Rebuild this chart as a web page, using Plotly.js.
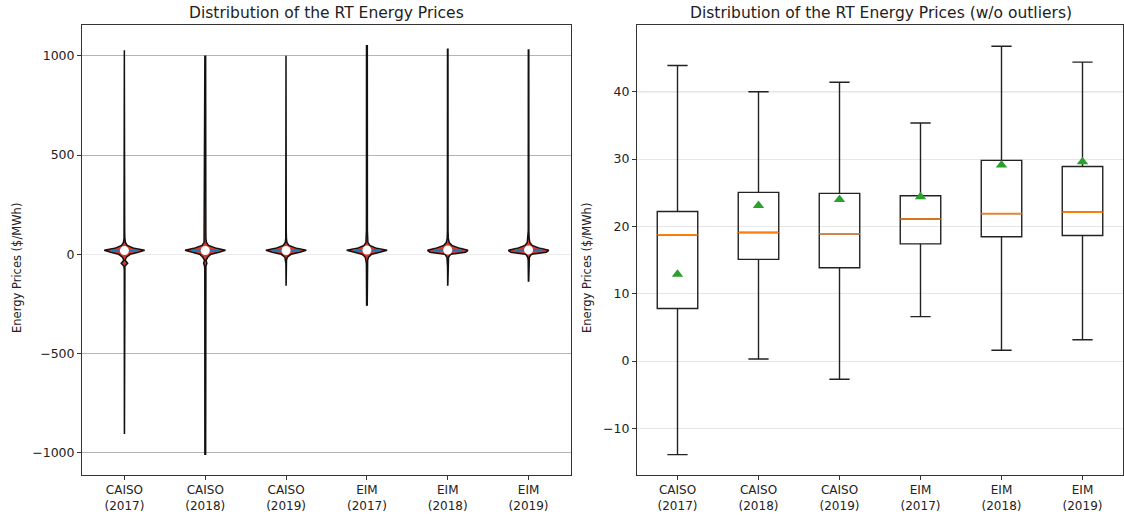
<!DOCTYPE html>
<html>
<head>
<meta charset="utf-8">
<script src="https://cdn.plot.ly/plotly-3.0.1.min.js"></script>
<style>
  html, body { margin: 0; padding: 0; background: #fff; }
  #chart { width: 1124px; height: 516px; }
</style>
</head>
<body>
<div id="chart"></div>
<script>
// Market / year groups
const tickLabels = ['CAISO<br>(2017)', 'CAISO<br>(2018)', 'CAISO<br>(2019)', 'EIM<br>(2017)', 'EIM<br>(2018)', 'EIM<br>(2019)'];

// Full price range per group ($/MWh)
const priceMin = [-905, -1011, -158, -259, -158, -138];
const priceMax = [1027, 997, 1000, 1050, 1032, 1029];

// Violin density profile (half-width in category units) at shared price levels
const densityLevels = [-120, -80, -60, -45, -30, -15, 0, 10, 20, 30, 45, 60, 80, 120];
const caiso2017Density = [0.002, 0.002, 0.006, 0.04, 0.008, 0.025, 0.07, 0.17, 0.25, 0.12, 0.035, 0.012, 0.005, 0.003];
const caiso2018Density = [0.006, 0.006, 0.008, 0.02, 0.009, 0.03, 0.07, 0.17, 0.25, 0.14, 0.04, 0.015, 0.008, 0.007];
const caiso2019Density = [0.001, 0.001, 0.002, 0.003, 0.005, 0.015, 0.06, 0.17, 0.25, 0.13, 0.035, 0.01, 0.004, 0.002];
const eim2017Density = [0.005, 0.005, 0.006, 0.007, 0.009, 0.02, 0.06, 0.16, 0.25, 0.12, 0.035, 0.012, 0.007, 0.006];
const eim2018Density = [0.002, 0.002, 0.003, 0.004, 0.005, 0.01, 0.035, 0.22, 0.25, 0.15, 0.05, 0.018, 0.007, 0.004];
const eim2019Density = [0.002, 0.002, 0.003, 0.004, 0.005, 0.01, 0.035, 0.22, 0.25, 0.14, 0.045, 0.016, 0.007, 0.004];
const tailMinDensity = [0.0005, 0.005, 0.0005, 0.004, 0.001, 0.002];
const tailMaxDensity = [0.001, 0.005, 0.001, 0.005, 0.003, 0.003];

// Box statistics without outliers ($/MWh)
const boxLowerWhisker = [-13.9, 0.3, -2.7, 6.6, 1.6, 3.15];
const boxQ1 = [7.8, 15.1, 13.85, 17.4, 18.45, 18.65];
const boxMedian = [18.75, 19.1, 18.9, 21.1, 21.9, 22.1];
const boxQ3 = [22.2, 25.05, 24.9, 24.55, 29.8, 28.9];
const boxUpperWhisker = [43.9, 40.0, 41.4, 35.35, 46.75, 44.4];
const priceMean = [12.9, 23.1, 24.0, 24.4, 29.1, 29.6];

const densities = [caiso2017Density, caiso2018Density, caiso2019Density, eim2017Density, eim2018Density, eim2019Density];
const positions = tickLabels.map((_, i) => i);

const FONT = 'DejaVu Sans, Liberation Sans, sans-serif';
const INK = '#222';
const traces = [];

// Violin bodies (left panel)
positions.forEach(i => {
  const levels = [priceMin[i]].concat(densityLevels, [priceMax[i]]);
  const widths = [tailMinDensity[i]].concat(densities[i], [tailMaxDensity[i]]);
  const xs = [], ys = [];
  for (let k = 0; k < levels.length; k++) { xs.push(i + widths[k]); ys.push(levels[k]); }
  for (let k = levels.length - 1; k >= 0; k--) { xs.push(i - widths[k]); ys.push(levels[k]); }
  traces.push({
    type: 'scatter', mode: 'lines', x: xs, y: ys, xaxis: 'x', yaxis: 'y',
    fill: 'toself', fillcolor: '#d93a2e',
    line: { color: '#111', width: 1.5 },
    hoverinfo: 'skip', showlegend: false
  });
});

// Median bars across each violin
const medX = [], medY = [];
positions.forEach(i => { medX.push(i - 0.17, i + 0.17, null); medY.push(boxMedian[i], boxMedian[i], null); });
traces.push({
  type: 'scatter', mode: 'lines', x: medX, y: medY, xaxis: 'x', yaxis: 'y',
  line: { color: '#1f77b4', width: 2 }, hoverinfo: 'skip', showlegend: false
});

// Median dots
traces.push({
  type: 'scatter', mode: 'markers', x: positions, y: boxMedian, xaxis: 'x', yaxis: 'y',
  marker: { symbol: 'circle', size: 9, color: '#fff', line: { width: 0 } },
  hoverinfo: 'skip', showlegend: false
});

// Box plot (right panel)
traces.push({
  type: 'box', x: positions, xaxis: 'x2', yaxis: 'y2',
  q1: boxQ1, median: boxMedian, q3: boxQ3,
  lowerfence: boxLowerWhisker, upperfence: boxUpperWhisker,
  width: 0.5, whiskerwidth: 0.5, boxpoints: false,
  fillcolor: 'rgba(255,255,255,0)',
  line: { color: INK, width: 1.4 },
  hoverinfo: 'skip', showlegend: false
});

// Orange median segments drawn over the boxes
const bmX = [], bmY = [];
positions.forEach(i => { bmX.push(i - 0.25, i + 0.25, null); bmY.push(boxMedian[i], boxMedian[i], null); });
traces.push({
  type: 'scatter', mode: 'lines', x: bmX, y: bmY, xaxis: 'x2', yaxis: 'y2',
  line: { color: '#ff7f0e', width: 1.6 }, hoverinfo: 'skip', showlegend: false
});

// Means
traces.push({
  type: 'scatter', mode: 'markers', x: positions, y: priceMean, xaxis: 'x2', yaxis: 'y2',
  marker: { symbol: 'triangle-up', size: 10, color: '#2ca02c', line: { width: 0 } },
  hoverinfo: 'skip', showlegend: false
});

const W = 1124, H = 516;
const yDomain = [1 - 475 / H, 1 - 25 / H];

const baseX = {
  tickmode: 'array', tickvals: positions, ticktext: tickLabels,
  ticks: 'outside', ticklen: 4, tickwidth: 1, tickcolor: '#333',
  tickfont: { family: FONT, size: 12, color: INK },
  showgrid: false, zeroline: false,
  showline: true, mirror: true, linecolor: '#333', linewidth: 1,
  automargin: false, fixedrange: true
};
const baseY = {
  ticks: 'outside', ticklen: 4, tickwidth: 1, tickcolor: '#333',
  tickfont: { family: FONT, size: 12.5, color: INK },
  showline: true, mirror: true, linecolor: '#333', linewidth: 1,
  automargin: false, fixedrange: true, domain: yDomain
};

const layout = {
  width: W, height: H,
  margin: { l: 0, r: 0, t: 0, b: 0 },
  paper_bgcolor: '#fff', plot_bgcolor: '#fff',
  showlegend: false,
  xaxis: Object.assign({}, baseX, { domain: [82 / W, 571 / W], range: [-0.525, 5.525], anchor: 'y' }),
  yaxis: Object.assign({}, baseY, {
    anchor: 'x', range: [-1111.3, 1154.6],
    tickmode: 'array', tickvals: [-1000, -500, 0, 500, 1000],
    ticktext: ['\u22121000', '\u2212500', '0', '500', '1000'],
    showgrid: true, gridcolor: '#b5b5b5', gridwidth: 1,
    zeroline: true, zerolinecolor: '#ececec', zerolinewidth: 1
  }),
  xaxis2: Object.assign({}, baseX, { domain: [637 / W, 1123 / W], range: [-0.5, 5.5], anchor: 'y2' }),
  yaxis2: Object.assign({}, baseY, {
    anchor: 'x2', range: [-16.93, 49.91],
    tickmode: 'array', tickvals: [-10, 0, 10, 20, 30, 40],
    ticktext: ['\u221210', '0', '10', '20', '30', '40'],
    showgrid: true, gridcolor: '#e6e6e6', gridwidth: 1,
    zeroline: false
  }),
  shapes: [
    { type: 'line', xref: 'x2 domain', yref: 'y2', x0: 0, x1: 1, y0: 40, y1: 40,
      line: { color: '#bdbdbd', width: 1 }, layer: 'below' }
  ],
  annotations: [
    { text: 'Distribution of the RT Energy Prices', xref: 'paper', yref: 'paper',
      x: (82 + 571) / 2 / W, y: 1 - 13 / H, xanchor: 'center', yanchor: 'middle', showarrow: false,
      font: { family: FONT, size: 15.5, color: INK } },
    { text: 'Distribution of the RT Energy Prices (w/o outliers)', xref: 'paper', yref: 'paper',
      x: (637 + 1124) / 2 / W, y: 1 - 13 / H, xanchor: 'center', yanchor: 'middle', showarrow: false,
      font: { family: FONT, size: 15.5, color: INK } },
    { text: 'Energy Prices ($/MWh)', xref: 'paper', yref: 'paper',
      x: 17 / W, y: 1 - 268 / H, xanchor: 'center', yanchor: 'middle', textangle: -90, showarrow: false,
      font: { family: FONT, size: 11.5, color: INK } },
    { text: 'Energy Prices ($/MWh)', xref: 'paper', yref: 'paper',
      x: 587 / W, y: 1 - 268 / H, xanchor: 'center', yanchor: 'middle', textangle: -90, showarrow: false,
      font: { family: FONT, size: 11.5, color: INK } }
  ]
};

Plotly.newPlot('chart', traces, layout, { staticPlot: true, displayModeBar: false });
</script>
</body>
</html>
